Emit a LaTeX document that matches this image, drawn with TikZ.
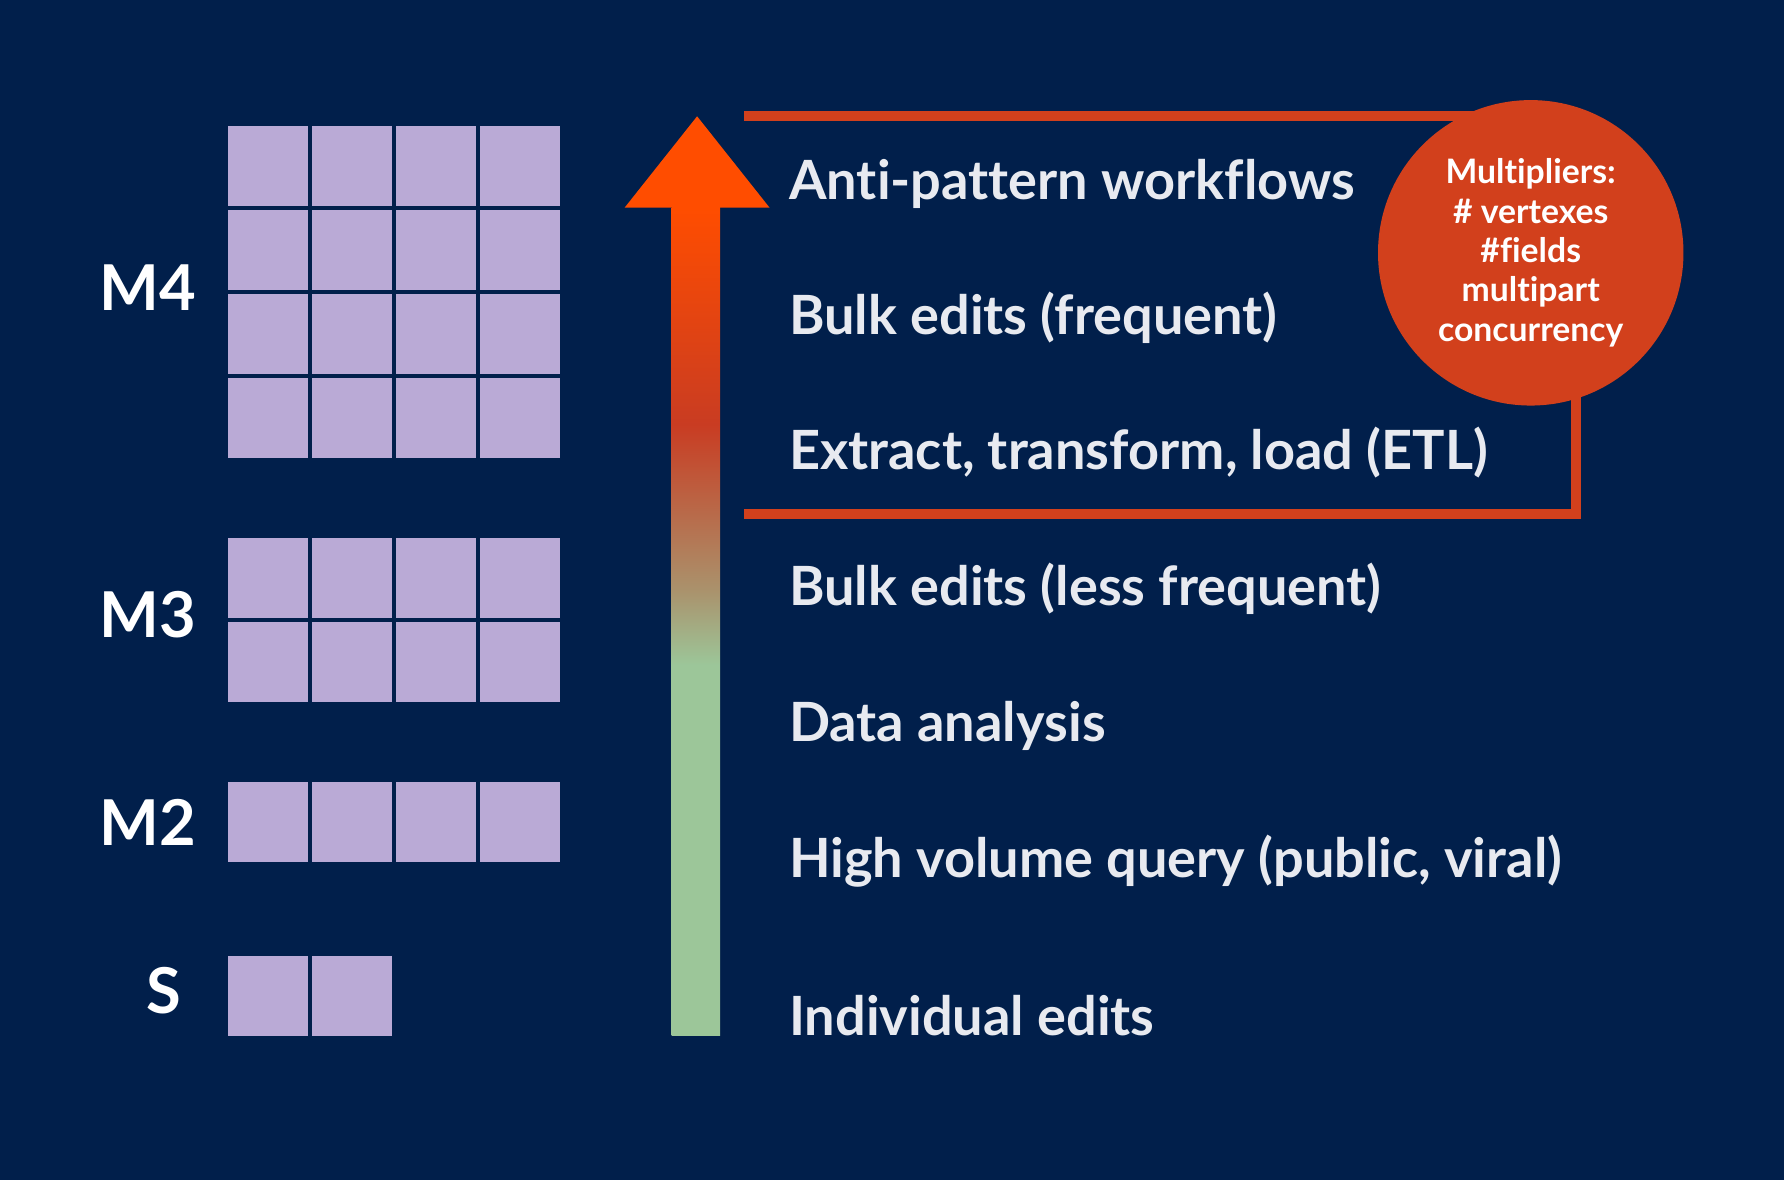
\documentclass[tikz,border=0pt]{standalone}
\usepackage{fontspec}
\setmainfont{Lato}[Ligatures=CommonOff]
\usetikzlibrary{positioning}
\definecolor{navy}{HTML}{011F4B}
\definecolor{lavender}{HTML}{BAAAD6}
\definecolor{boxred}{HTML}{D2401C}
\definecolor{headorange}{HTML}{FF4D00}
\definecolor{arrowred}{HTML}{C93C22}
\definecolor{arrowtan}{HTML}{AA926C}
\definecolor{arrowgreen}{HTML}{9CC699}
\definecolor{itemgrey}{HTML}{E8EAF0}
\pgfdeclareverticalshading{heat}{100bp}{color(0bp)=(arrowgreen); color(47.4bp)=(arrowgreen); color(51.9bp)=(arrowtan); color(61.9bp)=(arrowred); color(75bp)=(headorange); color(100bp)=(headorange)}
\tikzset{
    cell/.style={fill=lavender},
    size/.style={anchor=base east, text=white, inner sep=0, font=\fontsize{18}{22}\selectfont\bfseries},
    item/.style={anchor=base west, text=itemgrey, inner sep=0, font=\fontsize{15.4}{18}\selectfont\bfseries}
}
\begin{document}
\begin{tikzpicture}[x=0.011378cm, y=-0.011378cm]
            \fill[navy] (0,0) rectangle (1568,1037.1);
            % machine sizes
            \foreach \top/\rows/\cols in {110.8/4/4, 472.9/2/4, 687.2/1/4, 840.2/1/2}
                \foreach \r in {1,...,\rows}
                    \foreach \c in {1,...,\cols}
                        \fill[cell] ({200.4+73.8*(\c-1)}, {\top+73.8*(\r-1)}) rectangle ++(70,70);
            \node[size] (M4) at (173,272.7) {M4};
            \node[size] (M3) at (173,560) {M3};
            \node[size] (M2) at (173,742.8) {M2};
            \node[size] (S) at (160,890.6) {S};
            % arrow
            \coordinate (foot) at (611.7,910.4);
            \coordinate (neck) at (611.7,182.5);
            \coordinate (tip) at (612.7,102.2);
            \shade[shading=heat] (590.4,910.4) rectangle (632.9,182.5);
            \fill[headorange] (549,182.5) -- (tip) -- (676.4,182.5) -- cycle;
            % workloads
            \node[item] (anti) at (693,175) {Anti-pattern workflows};
            \node[item] (bulkf) at (693,294) {Bulk edits (frequent)};
            \node[item] (etl) at (693,413) {Extract, transform, load (ETL)};
            \node[item] (bulkl) at (693,532) {Bulk edits (less frequent)};
            \node[item] (data) at (693,652) {Data analysis};
            \node[item] (high) at (693,771) {High volume query (public, viral)};
            \node[item] (indiv) at (693,910) {Individual edits};
            % bracket and multipliers
            \draw[boxred, line width=2.9pt] (654,102.2) -- (1384.9,102.2) -- (1384.9,451.7) -- (654,451.7);
            \node[circle, fill=boxred, minimum size=3.056cm, inner sep=0, align=center, text=white,
                font=\fontsize{9.6}{11.2}\selectfont\bfseries] (mult) at (1345.4,222.2)
                {Multipliers:\\\# vertexes\\\#fields\\multipart\\concurrency};
        \end{tikzpicture}
\end{document}
